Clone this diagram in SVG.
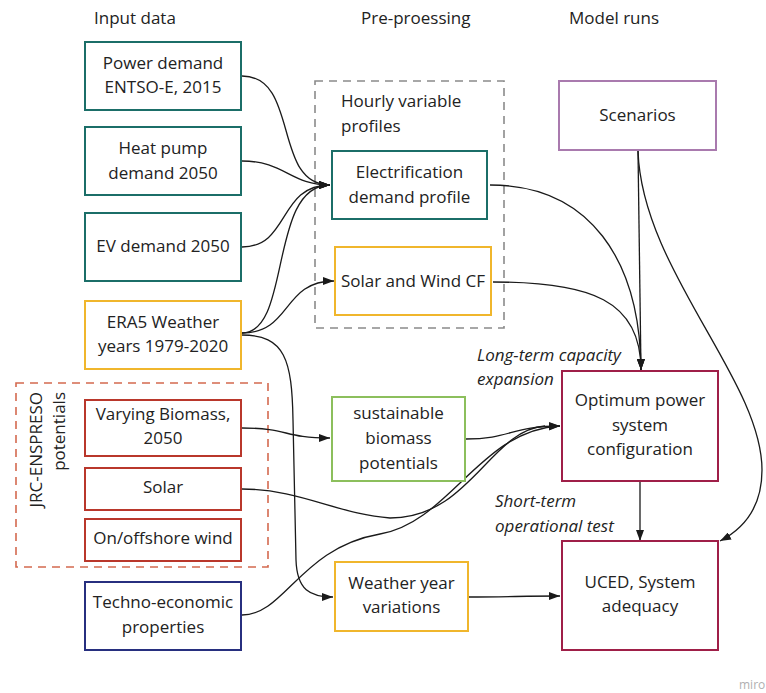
<svg xmlns="http://www.w3.org/2000/svg" width="766" height="693" viewBox="0 0 766 693">
<style>
text{font-family:"Open Sans","Noto Sans","Liberation Sans",sans-serif;font-size:17px;fill:#222}
.c{text-anchor:middle}
.i{font-style:italic}
.b{fill:#fff;stroke-width:2}
.teal{stroke:#1b6e68}
.yel{stroke:#f0b62c}
.red{stroke:#b9372b}
.pur{stroke:#a97aae}
.grn{stroke:#8cbf5c}
.nav{stroke:#272f7f}
.mar{stroke:#9f1f48}
.grp{fill:none;stroke-width:1.6;stroke-dasharray:8 6}
#connectors path{fill:none;stroke:#1a1a1a;stroke-width:1.3;marker-end:url(#ah)}
#connectors path.n{marker-end:none}
</style>
<defs>
<marker id="ah" markerUnits="userSpaceOnUse" markerWidth="12" markerHeight="8" refX="11" refY="4" orient="auto">
<path d="M0,0 L11,4 L0,8 z" fill="#1a1a1a"/>
</marker>
</defs>
<rect width="766" height="693" fill="#fff"/>

<g id="headers">
<text x="94" y="24">Input data</text>
<text x="361" y="24">Pre-proessing</text>
<text x="569" y="24">Model runs</text>
</g>

<g id="group-hourly">
<rect x="315" y="81" width="189" height="247" class="grp" stroke="#8a8a8a"/>
<text x="341" y="107">Hourly variable</text>
<text x="341" y="132">profiles</text>
</g>

<g id="group-jrc">
<rect x="16" y="383" width="252" height="184" class="grp" stroke="#d4694f"/>
<text transform="translate(42,392) rotate(-90)" text-anchor="end">JRC-ENSPRESO</text>
<text transform="translate(65,392) rotate(-90)" text-anchor="end">potentials</text>
</g>

<g id="connectors">
<path d="M242,76 C300,76 272,185 330,185"/>
<path d="M242,161 C285,161 290,185 330,185"/>
<path d="M242,247 C290,247 278,185 330,185"/>
<path d="M242,333 C292,333 268,185 330,185"/>
<path d="M242,333 C292,333 282,281 334,281"/>
<path d="M242,335 C285,335 292,360 293,420 L296,560 C297,590 310,597 333,597"/>
<path d="M242,428 C290,428 282,438 330,438"/>
<path class="n" d="M242,489 C300,489 340,515 390,518 C470,518 490,430 545,426"/>
<path d="M242,615 C285,615 300,548 380,534 C450,522 480,430 560,426"/>
<path d="M466,439 C510,439 512,426 560,426"/>
<path d="M490,185 C590,185 640,260 641,370"/>
<path d="M493,282 C590,282 641,300 641,370"/>
<path d="M638,151 L641,370"/>
<path d="M638,151 C642,270 762,380 762,470 C762,505 745,528 720,541"/>
<path d="M640,482 L640,541"/>
<path d="M468,597 C510,597 520,596 560,596"/>
</g>

<g id="power-demand">
<rect x="85" y="42" width="156" height="68" class="b teal"/>
<text x="163" y="69" class="c">Power demand</text>
<text x="163" y="93" class="c">ENTSO-E, 2015</text>
</g>
<g id="heat-pump">
<rect x="85" y="127" width="156" height="68" class="b teal"/>
<text x="163" y="154" class="c">Heat pump</text>
<text x="163" y="179" class="c">demand 2050</text>
</g>
<g id="ev-demand">
<rect x="85" y="213" width="156" height="68" class="b teal"/>
<text x="163" y="252" class="c">EV demand 2050</text>
</g>
<g id="era5">
<rect x="85" y="301" width="156" height="68" class="b yel"/>
<text x="163" y="328" class="c">ERA5 Weather</text>
<text x="163" y="352" class="c">years 1979-2020</text>
</g>
<g id="varying-biomass">
<rect x="85" y="400" width="156" height="56" class="b red"/>
<text x="163" y="420" class="c">Varying Biomass,</text>
<text x="163" y="444" class="c">2050</text>
</g>
<g id="solar">
<rect x="85" y="468" width="156" height="42" class="b red"/>
<text x="163" y="493" class="c">Solar</text>
</g>
<g id="wind">
<rect x="85" y="519" width="156" height="42" class="b red"/>
<text x="163" y="544" class="c">On/offshore wind</text>
</g>
<g id="techno">
<rect x="85" y="582" width="156" height="68" class="b nav"/>
<text x="163" y="608" class="c">Techno-economic</text>
<text x="163" y="633" class="c">properties</text>
</g>
<g id="electrification">
<rect x="332" y="151" width="155" height="68" class="b teal"/>
<text x="409.5" y="178" class="c">Electrification</text>
<text x="409.5" y="203" class="c">demand profile</text>
</g>
<g id="solar-wind-cf">
<rect x="335" y="247" width="156" height="68" class="b yel"/>
<text x="413" y="287" class="c">Solar and Wind CF</text>
</g>
<g id="sustainable-biomass">
<rect x="332" y="397" width="133" height="84" class="b grn"/>
<text x="398.5" y="419" class="c">sustainable</text>
<text x="398.5" y="444" class="c">biomass</text>
<text x="398.5" y="469" class="c">potentials</text>
</g>
<g id="weather-year">
<rect x="335" y="562" width="133" height="69" class="b yel"/>
<text x="401.5" y="589" class="c">Weather year</text>
<text x="401.5" y="613" class="c">variations</text>
</g>
<g id="scenarios">
<rect x="559" y="81" width="157" height="69" class="b pur"/>
<text x="637.5" y="121" class="c">Scenarios</text>
</g>
<g id="optimum">
<rect x="562" y="371" width="156" height="110" class="b mar"/>
<text x="640" y="406" class="c">Optimum power</text>
<text x="640" y="431" class="c">system</text>
<text x="640" y="455" class="c">configuration</text>
</g>
<g id="uced">
<rect x="562" y="541" width="156" height="109" class="b mar"/>
<text x="640" y="588" class="c">UCED, System</text>
<text x="640" y="612" class="c">adequacy</text>
</g>

<g id="labels">
<text x="477" y="361" class="i">Long-term capacity</text>
<text x="477" y="385" class="i">expansion</text>
<text x="495" y="507" class="i">Short-term</text>
<text x="495" y="532" class="i">operational test</text>
</g>
<text x="739" y="689" style="font-size:12px;fill:#b0b0b0">miro</text>
</svg>
